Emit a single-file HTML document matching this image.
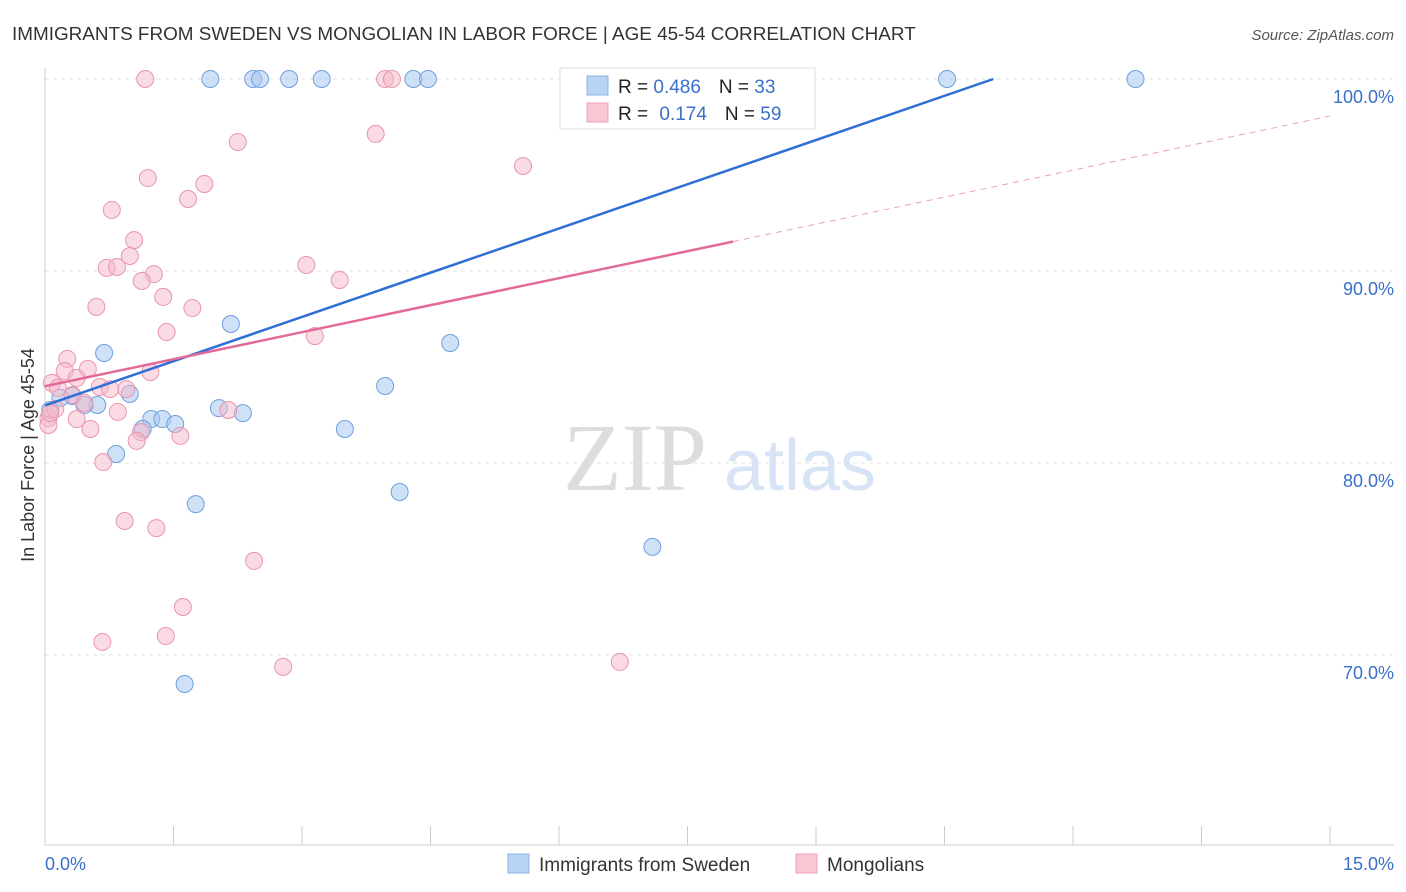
<!DOCTYPE html>
<html><head><meta charset="utf-8"><style>
body{margin:0;background:#fff;font-family:"Liberation Sans",sans-serif;}
svg{display:block}
</style></head><body>
<svg id="c" width="1406" height="892" font-family="Liberation Sans, sans-serif">
<text x="12" y="40" font-size="18.9" fill="#333">IMMIGRANTS FROM SWEDEN VS MONGOLIAN IN LABOR FORCE | AGE 45-54 CORRELATION CHART</text>
<text x="1394" y="40" font-size="15" fill="#555" font-style="italic" text-anchor="end">Source: ZipAtlas.com</text>
<text x="635" y="490" font-size="96" fill="#ddd" font-family="Liberation Serif, serif" text-anchor="middle">ZIP</text>
<text x="800" y="490" font-size="72" fill="#d6e4f5" text-anchor="middle">atlas</text>
<text transform="translate(34,455) rotate(-90)" font-size="18" fill="#333" text-anchor="middle">In Labor Force | Age 45-54</text>
<g id="grid"></g><g id="marks"></g>
<g>
<rect x="560" y="68" width="255" height="61" fill="#fff" stroke="#ddd"/>
<rect x="587" y="76" width="21" height="19" fill="#b8d3f3" stroke="#8db4e6"/>
<rect x="587" y="103" width="21" height="19" fill="#f9c6d4" stroke="#eea3ba"/>
<text x="618" y="93" font-size="19" fill="#222">R = <tspan fill="#3a70c9">0.486</tspan><tspan dx="18">N = </tspan><tspan fill="#3a70c9">33</tspan></text>
<text x="618" y="120" font-size="19" fill="#222">R = <tspan dx="6" fill="#3a70c9">0.174</tspan><tspan dx="18">N = </tspan><tspan fill="#3a70c9">59</tspan></text>
</g>
<g>
<rect x="508" y="854" width="21" height="19" fill="#b8d3f3" stroke="#8db4e6"/>
<text x="539" y="871" font-size="19" fill="#333">Immigrants from Sweden</text>
<rect x="796" y="854" width="21" height="19" fill="#f9c6d4" stroke="#eea3ba"/>
<text x="827" y="871" font-size="19" fill="#333">Mongolians</text>
</g>
<text x="45" y="870" font-size="18" fill="#3a70c9">0.0%</text>
<text x="1394" y="870" font-size="18" fill="#3a70c9" text-anchor="end">15.0%</text>
</svg>
<script>
const yTicks=[100,90,80,70];
const yTickLabels=["100.0%","90.0%","80.0%","70.0%"];
const xTicks=[0,1.5,3,4.5,6,7.5,9,10.5,12,13.5,15];
const swedenX=[1.93,2.43,2.51,2.85,3.23,4.30,4.47,7.00,7.32,10.53,12.73,2.17,0.69,4.73,0.99,0.61,0.46,2.03,2.31,1.24,1.37,1.52,1.14,3.50,0.83,3.97,4.14,1.76,7.09,1.63,0.32,0.18,0.06];
const swedenY=[100,100,100,100,100,100,100,100,100,100,100,87.24,85.73,86.25,83.6,83.02,83.02,82.86,82.6,82.29,82.29,82.03,81.77,81.77,80.47,84.01,78.49,77.86,75.63,68.49,83.49,83.39,82.76];
const mongX=[1.17,3.97,4.05,2.25,3.86,5.58,1.20,1.86,0.78,1.67,1.04,0.99,0.72,0.84,1.27,1.13,3.05,3.44,1.38,0.60,1.72,1.42,3.15,0.26,1.23,0.50,0.23,0.37,0.08,0.15,0.64,0.95,0.76,0.32,0.46,0.85,2.14,0.37,0.53,1.12,1.07,1.58,0.68,0.93,1.30,2.44,1.61,1.41,0.67,2.78,6.71,0.04,0.04,0.12,0.06];
const mongY=[100,100,100,96.72,97.14,95.47,94.84,94.53,93.18,93.75,91.61,90.78,90.16,90.21,89.84,89.48,90.31,89.53,88.65,88.13,88.07,86.82,86.61,85.42,84.74,84.9,84.79,84.43,84.17,83.91,83.96,83.85,83.85,83.54,83.13,82.66,82.76,82.29,81.77,81.61,81.15,81.41,80.05,76.98,76.61,74.9,72.5,70.99,70.68,69.38,69.64,82.34,81.98,82.81,82.6];
const swedenTrend=[[0,83.0],[11.07,100]];
const mongTrend=[[0,84.0],[8.03,91.53],[15,98.07]];
const X=v=>45+v*85.667, Y=v=>79+(100-v)*19.2;
const NS="http://www.w3.org/2000/svg";
function mk(t,a,p){const e=document.createElementNS(NS,t);for(const k in a)e.setAttribute(k,a[k]);p.appendChild(e);return e;}
const g=document.getElementById('grid'),m=document.getElementById('marks');
yTicks.forEach((t,i)=>{const l=mk('line',{x1:45,x2:1394,y1:Y(t),y2:Y(t),stroke:'#e2e2e2','stroke-dasharray':'4,4'},g);


const tx=mk('text',{x:1394,y:Y(t)+24,'font-size':18,fill:'#3a70c9','text-anchor':'end'},g);tx.textContent=yTickLabels[i];

});
const ax=mk('line',{x1:45,x2:45,y1:68,y2:845,stroke:'#ccc'},g);


const bx=mk('line',{x1:45,x2:1394,y1:845,y2:845,stroke:'#ccc'},g);


xTicks.forEach(t=>{const l=mk('line',{x1:X(t),x2:X(t),y1:826,y2:845,stroke:'#ccc'},g);

});
for(let i=0;i<swedenX.length;i++){const c=mk('circle',{cx:X(swedenX[i]),cy:Y(swedenY[i]),r:8.5,fill:'rgba(168,200,240,0.55)',stroke:'#6f9fdf','stroke-width':1},m);

}
for(let i=0;i<mongX.length;i++){const c=mk('circle',{cx:X(mongX[i]),cy:Y(mongY[i]),r:8.5,fill:'rgba(245,182,200,0.5)',stroke:'#e995ae','stroke-width':1},m);

}
const bl=mk('line',{x1:X(swedenTrend[0][0]),y1:Y(swedenTrend[0][1]),x2:X(swedenTrend[1][0]),y2:Y(swedenTrend[1][1]),stroke:'#2f6fd6','stroke-width':2.5},m);


const pl=mk('line',{x1:X(mongTrend[0][0]),y1:Y(mongTrend[0][1]),x2:X(mongTrend[1][0]),y2:Y(mongTrend[1][1]),stroke:'#e3699a','stroke-width':2.5},m);


const pd=mk('line',{x1:X(mongTrend[1][0]),y1:Y(mongTrend[1][1]),x2:X(mongTrend[2][0]),y2:Y(mongTrend[2][1]),stroke:'#eaa0bb','stroke-width':1,'stroke-dasharray':'6,5'},m);


</script>
</body></html>
